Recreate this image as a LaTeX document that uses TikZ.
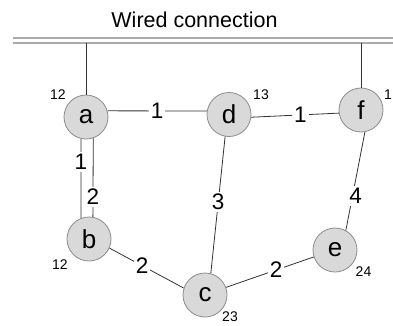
\documentclass[tikz,border=0pt]{standalone}
\usepackage{fontspec}
\setmainfont{Liberation Sans}
\definecolor{nodefill}{HTML}{D9D9D9}
\definecolor{nodeline}{HTML}{8C8C8C}
\definecolor{edgecol}{HTML}{333333}
\definecolor{wirecol}{HTML}{AAAAAA}
\begin{document}
\begin{tikzpicture}[x=1pt,y=-1pt,
  vtx/.style={circle, draw=nodeline, fill=nodefill, line width=0.8pt, minimum size=44pt, inner sep=0pt, font=\fontsize{26}{28}\selectfont},
  edge/.style={draw=edgecol, line width=0.8pt},
  wire/.style={draw=wirecol, line width=1.4pt},
  elab/.style={fill=white, inner sep=2pt, font=\fontsize{22.5}{25}\selectfont},
  small/.style={inner sep=0pt, font=\fontsize{14}{16}\selectfont},
  ttl/.style={inner sep=0pt, font=\fontsize{21.5}{24}\selectfont}]
\useasboundingbox (0,0) rectangle (393,325);
\node[ttl] (t) at (194.5,20) {Wired connection};
\coordinate (w1l) at (13,38);
\coordinate (w1r) at (393,38);
\coordinate (w2l) at (13,43);
\coordinate (w2r) at (393,43);
\draw[wire] (w1l) -- (w1r);
\draw[wire] (w2l) -- (w2r);

\node[vtx] (a) at (86,117) {a};
\node[vtx] (d) at (229,114.5) {d};
\node[vtx] (f) at (361,110) {f};
\node[vtx] (b) at (89,239) {b};
\node[vtx] (c) at (205,295) {c};
\node[vtx] (e) at (335,250) {e};

\node[small] (la) at (58,95) {12};
\node[small] (ld) at (261,95) {13};
\node[small] (lf) at (388,95) {1};
\node[small] (lb) at (60,265) {12};
\node[small] (lc) at (230,316.5) {23};
\node[small] (le) at (363.5,272) {24};

\draw[edge] (a.north) -- (a.north |- w2l);
\draw[edge] (f.north) -- (f.north |- w2l);

\draw[edge] (a.16) -- node[elab] {1} (d.171);
\draw[edge] (d.-7) -- node[elab, pos=0.56] {1} (f.188);
\draw[edge] (a.-103) -- node[elab, pos=0.29] {1} (b.111);
\draw[edge] (a.-71) -- node[elab, pos=0.745] {2} (b.80);
\draw[edge] (b.-24) -- node[elab, pos=0.44] {2} (c.162);
\draw[edge] (d.-100) -- node[elab, pos=0.48] {3} (c.75);
\draw[edge] (c.20) -- node[elab, pos=0.57] {2} (e.198);
\draw[edge] (f.-80) -- node[elab, pos=0.65, xshift=3pt] {4} (e.61);
\end{tikzpicture}
\end{document}
